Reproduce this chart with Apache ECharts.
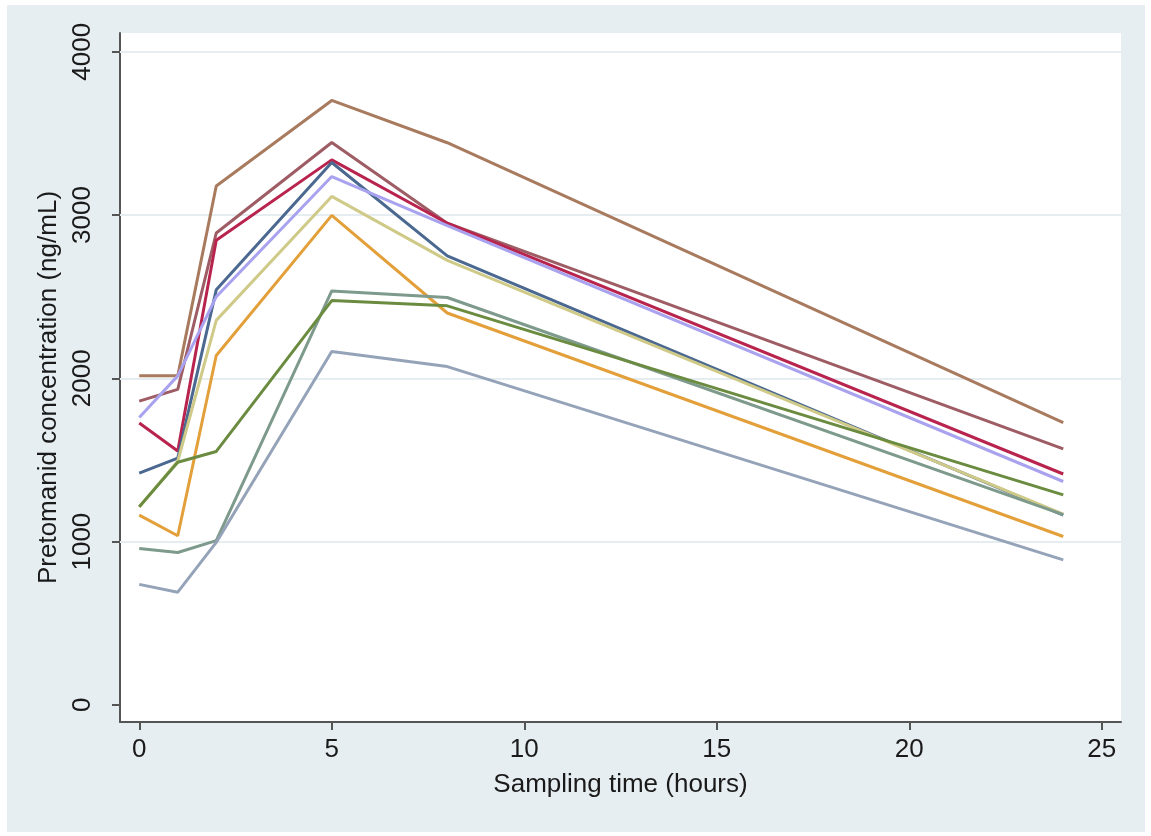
<!DOCTYPE html>
<html>
<head>
<meta charset="utf-8">
<title>Pretomanid concentration</title>
<script src="https://cdn.jsdelivr.net/npm/echarts@6/dist/echarts.min.js"></script>
<style>
  html, body { margin: 0; padding: 0; background: #fff; }
  #chart { position: absolute; left: 7px; top: 5px; width: 1138px; height: 827px; }
</style>
</head>
<body>
<div id="chart"></div>
<script>
// sampling times (hours)
var times = [0, 1, 2, 5, 8, 24];

// concentration profiles (ng/mL), one per participant
var brown = [2015, 2015, 3178, 3702, 3443, 1729];
var maroon = [1860, 1932, 2890, 3444, 2950, 1568];
var cranberry = [1726, 1555, 2845, 3338, 2950, 1414];
var navy = [1419, 1511, 2542, 3322, 2750, 1162];
var lavender = [1760, 2015, 2500, 3236, 2935, 1368];
var khaki = [1212, 1492, 2355, 3114, 2722, 1168];
var orange = [1162, 1036, 2140, 2998, 2400, 1031];
var teal = [958, 933, 1006, 2535, 2495, 1165];
var forest = [1214, 1486, 1552, 2476, 2444, 1286];
var emidblue = [738, 690, 995, 2164, 2072, 888];

var xTicks = [0, 5, 10, 15, 20, 25];
var yTicks = [0, 1000, 2000, 3000, 4000];
var gridValues = [1000, 2000, 3000, 4000];

var profiles = [
    {values: brown, color: '#a87a5e'},
    {values: maroon, color: '#9e5c64'},
    {values: cranberry, color: '#b8244e'},
    {values: navy, color: '#4a6890'},
    {values: lavender, color: '#a9a2ee'},
    {values: khaki, color: '#cfca88'},
    {values: orange, color: '#e3a03a'},
    {values: teal, color: '#7d9a8c'},
    {values: forest, color: '#6b8c40'},
    {values: emidblue, color: '#95a3b8'}
];

var font = '"Liberation Sans", Arial, sans-serif';
var textColor = '#1a1a1a';
var axisColor = '#555';

var series = profiles.map(function (p) {
    return {
        type: 'line',
        data: times.map(function (t, i) { return [t, p.values[i]]; }),
        showSymbol: false,
        symbol: 'none',
        silent: true,
        lineStyle: {color: p.color, width: 3},
        z: 2
    };
});

// light horizontal grid lines
series.push({
    type: 'line',
    data: [],
    silent: true,
    markLine: {
        silent: true,
        symbol: 'none',
        z: 1,
        label: {show: false},
        lineStyle: {color: '#e5edf0', width: 2, type: 'solid'},
        data: gridValues.map(function (v) { return {yAxis: v}; })
    }
});

var chart = echarts.init(document.getElementById('chart'));
chart.setOption({
    animation: false,
    backgroundColor: '#e7eef1',
    grid: {
        left: 113, top: 28, right: 24, bottom: 110,
        show: true, backgroundColor: '#fff', borderWidth: 0
    },
    xAxis: {
        type: 'value',
        min: -0.5,
        max: 25.5,
        name: 'Sampling time (hours)',
        nameLocation: 'middle',
        nameGap: 50,
        nameTextStyle: {fontFamily: font, fontSize: 26, color: textColor},
        axisLine: {show: true, onZero: false, lineStyle: {color: axisColor, width: 2}},
        axisTick: {show: true, customValues: xTicks, length: 8, lineStyle: {color: axisColor, width: 2}},
        axisLabel: {customValues: xTicks, margin: 15, fontFamily: font, fontSize: 26, color: textColor},
        splitLine: {show: false}
    },
    yAxis: {
        type: 'value',
        min: -105,
        max: 4115,
        name: 'Pretomanid concentration (ng/mL)',
        nameLocation: 'middle',
        nameGap: 36,
        nameTextStyle: {fontFamily: font, fontSize: 26, color: textColor, padding: [0, 20, 0, 0]},
        axisLine: {show: true, onZero: false, lineStyle: {color: axisColor, width: 2}},
        axisTick: {show: true, customValues: yTicks, length: 8, lineStyle: {color: axisColor, width: 2}},
        axisLabel: {
            customValues: yTicks, rotate: 90, margin: 24,
            fontFamily: font, fontSize: 26, color: textColor,
            formatter: function (v) { return String(v); }
        },
        splitLine: {show: false}
    },
    series: series
});
</script>
</body>
</html>
